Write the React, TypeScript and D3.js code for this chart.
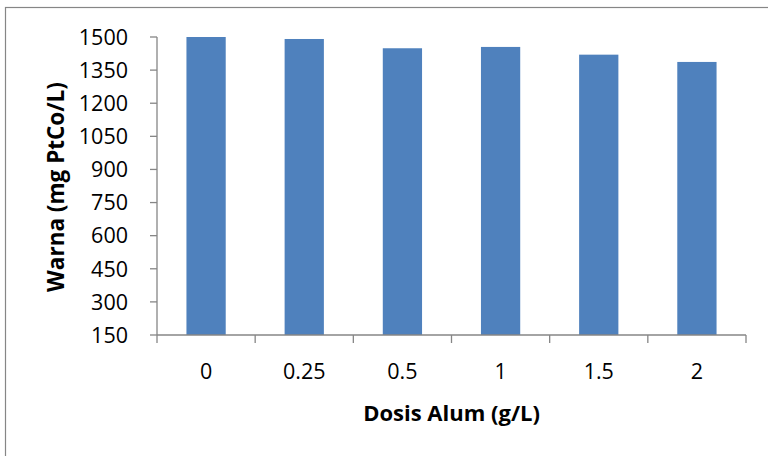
import React from "react";
import * as d3 from "d3";

// Alum dose (g/L) and resulting colour (mg PtCo/L)
const doses: string[] = ["0", "0.25", "0.5", "1", "1.5", "2"];
const colourValues: number[] = [1500, 1491, 1449, 1455, 1420, 1387];
const yTicks: number[] = [150, 300, 450, 600, 750, 900, 1050, 1200, 1350, 1500];

const W = 768;
const H = 456;
const margin = { left: 157, right: 22, top: 37, bottom: 121 };
const FONT = "'Open Sans', 'Liberation Sans', sans-serif";
const AXIS = "#868686";
const BAR = "#4F81BD";

export default function App() {
  const x = d3
    .scaleBand<string>()
    .domain(doses)
    .range([margin.left, W - margin.right])
    .paddingInner(0.6)
    .paddingOuter(0.3);
  const y = d3
    .scaleLinear()
    .domain([150, 1500])
    .range([H - margin.bottom, margin.top]);

  const step = x.step();
  const x0 = margin.left;
  const x1 = W - margin.right;
  const yBase = y(150);

  return (
    <svg
      width={W}
      height={H}
      style={{ position: "absolute", left: 0, top: 0, background: "#fff" }}
      fontFamily={FONT}
    >
      <rect x={5.5} y={7.5} width={W + 10} height={H + 10} fill="#fff" stroke={AXIS} strokeWidth={1.2} />

      {/* bars */}
      {doses.map((d, i) => (
        <rect
          key={d}
          x={x(d)}
          y={y(colourValues[i])}
          width={x.bandwidth()}
          height={yBase - y(colourValues[i])}
          fill={BAR}
        />
      ))}

      {/* y axis */}
      <line x1={x0} x2={x0} y1={y(1500)} y2={yBase} stroke={AXIS} strokeWidth={1.3} />
      {yTicks.map((t) => (
        <g key={t}>
          <line x1={x0 - 7} x2={x0} y1={y(t)} y2={y(t)} stroke={AXIS} strokeWidth={1.3} />
          <text x={128} y={y(t)} dy="0.36em" textAnchor="end" fontSize={21.5} fill="#000">
            {t}
          </text>
        </g>
      ))}

      {/* x axis */}
      <line x1={x0} x2={x1} y1={yBase} y2={yBase} stroke={AXIS} strokeWidth={1.3} />
      {d3.range(doses.length + 1).map((i) => (
        <line
          key={i}
          x1={x0 + i * step}
          x2={x0 + i * step}
          y1={yBase}
          y2={yBase + 8}
          stroke={AXIS}
          strokeWidth={1.3}
        />
      ))}
      {doses.map((d) => (
        <text
          key={d}
          x={(x(d) as number) + x.bandwidth() / 2}
          y={379}
          textAnchor="middle"
          fontSize={21.5}
          fill="#000"
        >
          {d}
        </text>
      ))}

      {/* axis titles */}
      <text x={(x0 + x1) / 2} y={421} textAnchor="middle" fontSize={22} fontWeight="bold" fill="#000">
        Dosis Alum (g/L)
      </text>
      <text
        transform={`translate(64, ${(y(1500) + yBase) / 2 + 1}) rotate(-90)`}
        textAnchor="middle"
        fontSize={22.5}
        fontWeight="bold"
        fill="#000"
      >
        Warna (mg PtCo/L)
      </text>
    </svg>
  );
}
